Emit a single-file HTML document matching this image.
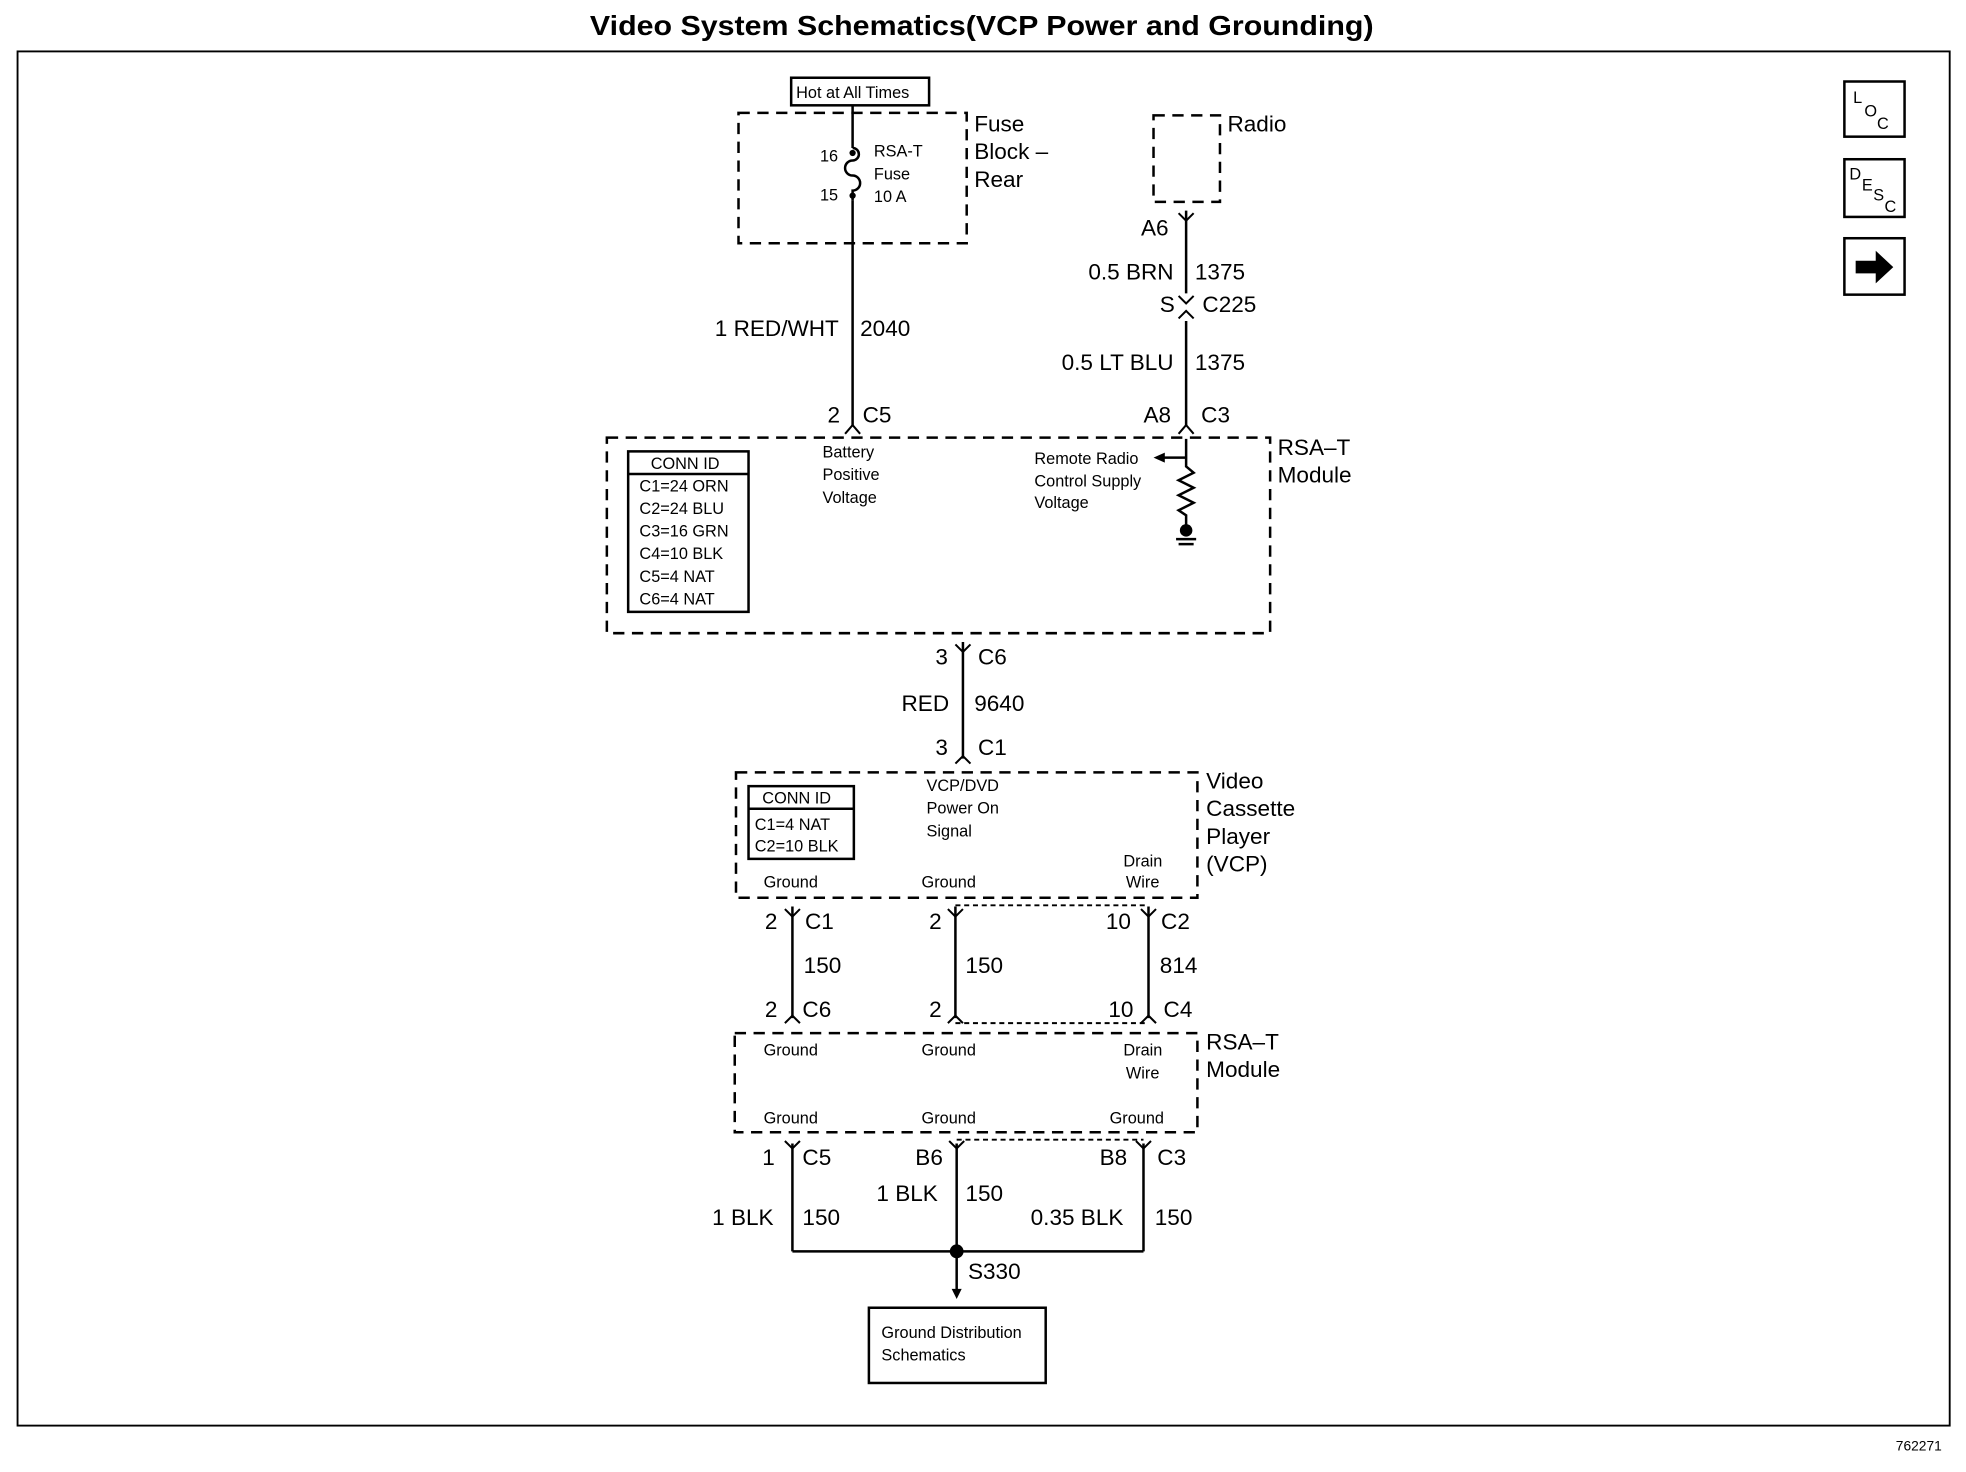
<!DOCTYPE html>
<html><head><meta charset="utf-8"><style>
html,body{margin:0;padding:0;background:#fff;}
svg{display:block;}
text{font-family:"Liberation Sans",Arial,sans-serif;fill:#000;}
.l{font-size:18px;}
.s{font-size:13px;}
</style></head><body>
<svg width="1966" height="1472" viewBox="0 0 1568 1174" xmlns="http://www.w3.org/2000/svg">
<g stroke="#000" fill="none" stroke-width="2">
<rect x="14" y="41" width="1541" height="1096" stroke-width="1.5"/>
<rect x="1471" y="65" width="48" height="44"/>
<rect x="1471" y="127" width="48" height="46"/>
<rect x="1471" y="190" width="48" height="45"/>
<rect x="631" y="62" width="110" height="22"/>
<g stroke-dasharray="9,6">
<rect x="589" y="90" width="182" height="104"/>
<rect x="920" y="92" width="53" height="69"/>
<rect x="484" y="349" width="529" height="156"/>
<rect x="587" y="616" width="368" height="100"/>
<rect x="586" y="824" width="369" height="79"/>
<path d="M762 722 H916 M762 816 H916 M763 909 H912" stroke-width="1.5" stroke-dasharray="4,3"/>
</g>
<path d="M680 84 V118 M680 160 V340"/>
<path d="M680 118 a5 5 0 0 1 0 10 a6 6 0 0 0 0 12 a6 6 0 0 1 0 12 V160"/>
<path d="M946 168 V234 M946 256 V340"/>
<path d="M768 512 V605"/>
<path d="M632 723 V812 M762 723 V812 M916 723 V812"/>
<path d="M632 912 V998 M763 912 V998 M912 912 V998 M632 998 H912"/>
<path d="M763 998 V1030"/>
<path d="M946 350 V372 l6 5 l-12 6 l12 6 l-12 6 l12 6 l-12 6 l6 4 V420"/>
<path d="M946 365 H928"/>
<path d="M938 430 H954 M940 434 H952"/>
<g stroke-width="1.6">
<path d="M674 346 l6 -7 l6 7 M940 346 l6 -7 l6 7 M940 170 l6 6 l6 -6 M940 236 l6 6 l6 -6 M940 254 l6 -6 l6 6 M762 514 l6 6 l6 -6 M762 609 l6 -6 l6 6 M626 725 l6 6 l6 -6 M756 725 l6 6 l6 -6 M910 725 l6 6 l6 -6 M626 816 l6 -6 l6 6 M756 816 l6 -6 l6 6 M910 816 l6 -6 l6 6 M626 910 l6 6 l6 -6 M757 910 l6 6 l6 -6 M906 910 l6 6 l6 -6"/>
</g>
<rect x="501" y="360" width="96" height="128"/>
<path d="M501 378 H597"/>
<rect x="597" y="627" width="84" height="58"/>
<path d="M597 645 H681"/>
<rect x="693" y="1043" width="141" height="60"/>
</g>
<circle cx="680" cy="122" r="2.5"/><circle cx="680" cy="156" r="2.5"/>
<circle cx="946" cy="423" r="5"/>
<circle cx="763" cy="998" r="5.5"/>
<path d="M763 1036 l-4 -8 h8 z"/>
<path d="M920 365 l9 -4 v8 z"/>
<path d="M1480 208 h16 v-8 l14 13 l-14 13 v-8 h-16 z"/>
<text x="783" y="28" text-anchor="middle" style="font-size:22px;font-weight:bold" textLength="625" lengthAdjust="spacingAndGlyphs">Video System Schematics(VCP Power and Grounding)</text>
<text x="1512" y="1157" style="font-size:11px">762271</text>
<text x="1478" y="82" class="s">L</text><text x="1487" y="93" class="s">O</text><text x="1497" y="103" class="s">C</text>
<text x="1475" y="143" class="s">D</text><text x="1485" y="152" class="s">E</text><text x="1494" y="160" class="s">S</text><text x="1503" y="169" class="s">C</text>
<text x="635" y="78" class="s">Hot at All Times</text>
<text x="777" y="105" class="l">Fuse</text><text x="777" y="127" class="l">Block –</text><text x="777" y="149" class="l">Rear</text>
<text x="654" y="129" class="s">16</text><text x="654" y="160" class="s">15</text>
<text x="697" y="125" class="s">RSA-T</text><text x="697" y="143" class="s">Fuse</text><text x="697" y="161" class="s">10 A</text>
<text x="979" y="105" class="l">Radio</text>
<text x="669" y="268" class="l" text-anchor="end">1 RED/WHT</text><text x="686" y="268" class="l">2040</text>
<text x="660" y="337" class="l">2</text><text x="688" y="337" class="l">C5</text>
<text x="910" y="188" class="l">A6</text>
<text x="936" y="223" class="l" text-anchor="end">0.5 BRN</text><text x="953" y="223" class="l">1375</text>
<text x="925" y="249" class="l">S</text><text x="959" y="249" class="l">C225</text>
<text x="936" y="295" class="l" text-anchor="end">0.5 LT BLU</text><text x="953" y="295" class="l">1375</text>
<text x="912" y="337" class="l">A8</text><text x="958" y="337" class="l">C3</text>
<text x="1019" y="363" class="l">RSA–T</text><text x="1019" y="385" class="l">Module</text>
<text x="519" y="374" class="s">CONN ID</text>
<text x="510" y="392" class="s">C1=24 ORN</text><text x="510" y="410" class="s">C2=24 BLU</text><text x="510" y="428" class="s">C3=16 GRN</text><text x="510" y="446" class="s">C4=10 BLK</text><text x="510" y="464" class="s">C5=4 NAT</text><text x="510" y="482" class="s">C6=4 NAT</text>
<text x="656" y="365" class="s">Battery</text><text x="656" y="383" class="s">Positive</text><text x="656" y="401" class="s">Voltage</text>
<text x="825" y="370" class="s">Remote Radio</text><text x="825" y="388" class="s">Control Supply</text><text x="825" y="405" class="s">Voltage</text>
<text x="746" y="530" class="l">3</text><text x="780" y="530" class="l">C6</text>
<text x="719" y="567" class="l">RED</text><text x="777" y="567" class="l">9640</text>
<text x="746" y="602" class="l">3</text><text x="780" y="602" class="l">C1</text>
<text x="962" y="629" class="l">Video</text><text x="962" y="651" class="l">Cassette</text><text x="962" y="673" class="l">Player</text><text x="962" y="695" class="l">(VCP)</text>
<text x="608" y="641" class="s">CONN ID</text><text x="602" y="662" class="s">C1=4 NAT</text><text x="602" y="679" class="s">C2=10 BLK</text>
<text x="739" y="631" class="s">VCP/DVD</text><text x="739" y="649" class="s">Power On</text><text x="739" y="667" class="s">Signal</text>
<text x="609" y="708" class="s">Ground</text><text x="735" y="708" class="s">Ground</text>
<text x="896" y="691" class="s">Drain</text><text x="898" y="708" class="s">Wire</text>
<text x="610" y="741" class="l">2</text><text x="642" y="741" class="l">C1</text>
<text x="741" y="741" class="l">2</text><text x="882" y="741" class="l">10</text><text x="926" y="741" class="l">C2</text>
<text x="641" y="776" class="l">150</text><text x="770" y="776" class="l">150</text><text x="925" y="776" class="l">814</text>
<text x="610" y="811" class="l">2</text><text x="640" y="811" class="l">C6</text>
<text x="741" y="811" class="l">2</text><text x="884" y="811" class="l">10</text><text x="928" y="811" class="l">C4</text>
<text x="962" y="837" class="l">RSA–T</text><text x="962" y="859" class="l">Module</text>
<text x="609" y="842" class="s">Ground</text><text x="735" y="842" class="s">Ground</text>
<text x="896" y="842" class="s">Drain</text><text x="898" y="860" class="s">Wire</text>
<text x="609" y="896" class="s">Ground</text><text x="735" y="896" class="s">Ground</text><text x="885" y="896" class="s">Ground</text>
<text x="608" y="929" class="l">1</text><text x="640" y="929" class="l">C5</text>
<text x="730" y="929" class="l">B6</text><text x="877" y="929" class="l">B8</text><text x="923" y="929" class="l">C3</text>
<text x="568" y="977" class="l">1 BLK</text><text x="640" y="977" class="l">150</text>
<text x="699" y="958" class="l">1 BLK</text><text x="770" y="958" class="l">150</text>
<text x="822" y="977" class="l">0.35 BLK</text><text x="921" y="977" class="l">150</text>
<text x="772" y="1020" class="l">S330</text>
<text x="703" y="1067" class="s">Ground Distribution</text><text x="703" y="1085" class="s">Schematics</text>
</svg>
</body></html>
